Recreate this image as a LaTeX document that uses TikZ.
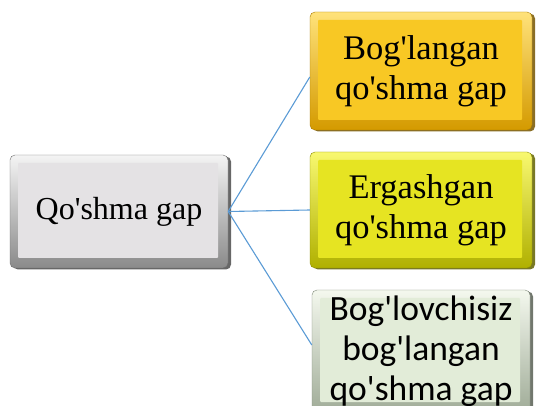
\documentclass[tikz,border=0pt]{standalone}
\usepackage{fontspec}
\newfontfamily\tms{Liberation Serif}
\newfontfamily\calib{Carlito}
\usetikzlibrary{shadows}
\definecolor{conn}{HTML}{5B9BD5}
\definecolor{grayL}{HTML}{F4F4F4}
\definecolor{grayD}{HTML}{8A8A8A}
\definecolor{grayI}{HTML}{E4E2E4}
\definecolor{goldL}{HTML}{FFE27A}
\definecolor{goldD}{HTML}{D49A00}
\definecolor{goldI}{HTML}{F8C824}
\definecolor{yelL}{HTML}{F8F870}
\definecolor{yelD}{HTML}{B0B000}
\definecolor{yelI}{HTML}{E6E422}
\definecolor{grnL}{HTML}{F4F8EE}
\definecolor{grnD}{HTML}{A0AC98}
\definecolor{grnI}{HTML}{E2ECD8}
\tikzset{
  bevel/.style n args={3}{
    rounded corners=5pt, draw=#2!80!black, line width=0.4pt,
    top color=#1, bottom color=#2, align=center, inner sep=0pt,
    path picture={\fill[#3, rounded corners=1pt]
      ([shift={(8pt,-8pt)}]path picture bounding box.north west) rectangle
      ([shift={(-10pt,10pt)}]path picture bounding box.south east);},
    drop shadow={shadow xshift=3pt, shadow yshift=-1.5pt, fill=#2!55!black, opacity=0.85}
  },
  conline/.style={draw=conn, line width=1.1pt}
}
\begin{document}
\begin{tikzpicture}[x=1pt,y=1pt]
\useasboundingbox (0,0) rectangle (539,405);
\clip (0,0) rectangle (539,405);
\node[bevel={grayL}{grayD}{grayI}, minimum width=218pt, minimum height=113pt,
  font=\tms\fontsize{32}{40}\selectfont] (q) at (119,193.5) {Qo'shma gap};
\node[bevel={goldL}{goldD}{goldI}, minimum width=222pt, minimum height=118pt,
  font=\tms\fontsize{34.5}{40}\selectfont] (b1) at (421,334) {Bog'langan\\qo'shma gap};
\node[bevel={yelL}{yelD}{yelI}, minimum width=222pt, minimum height=116pt,
  font=\tms\fontsize{34.5}{40}\selectfont] (b2) at (421,195) {Ergashgan\\qo'shma gap};
\node[bevel={grnL}{grnD}{grnI}, minimum width=218pt, minimum height=122pt,
  font=\calib\fontsize{35.5}{40}\selectfont] (b3) at (421,54) {Bog'lovchisiz\\bog'langan\\qo'shma gap};
\draw[conline] (q.east) -- ([yshift=-6pt]b1.west);
\draw[conline] (q.east) -- (b2.west);
\draw[conline] (q.east) -- ([yshift=6pt]b3.west);
\end{tikzpicture}
\end{document}
